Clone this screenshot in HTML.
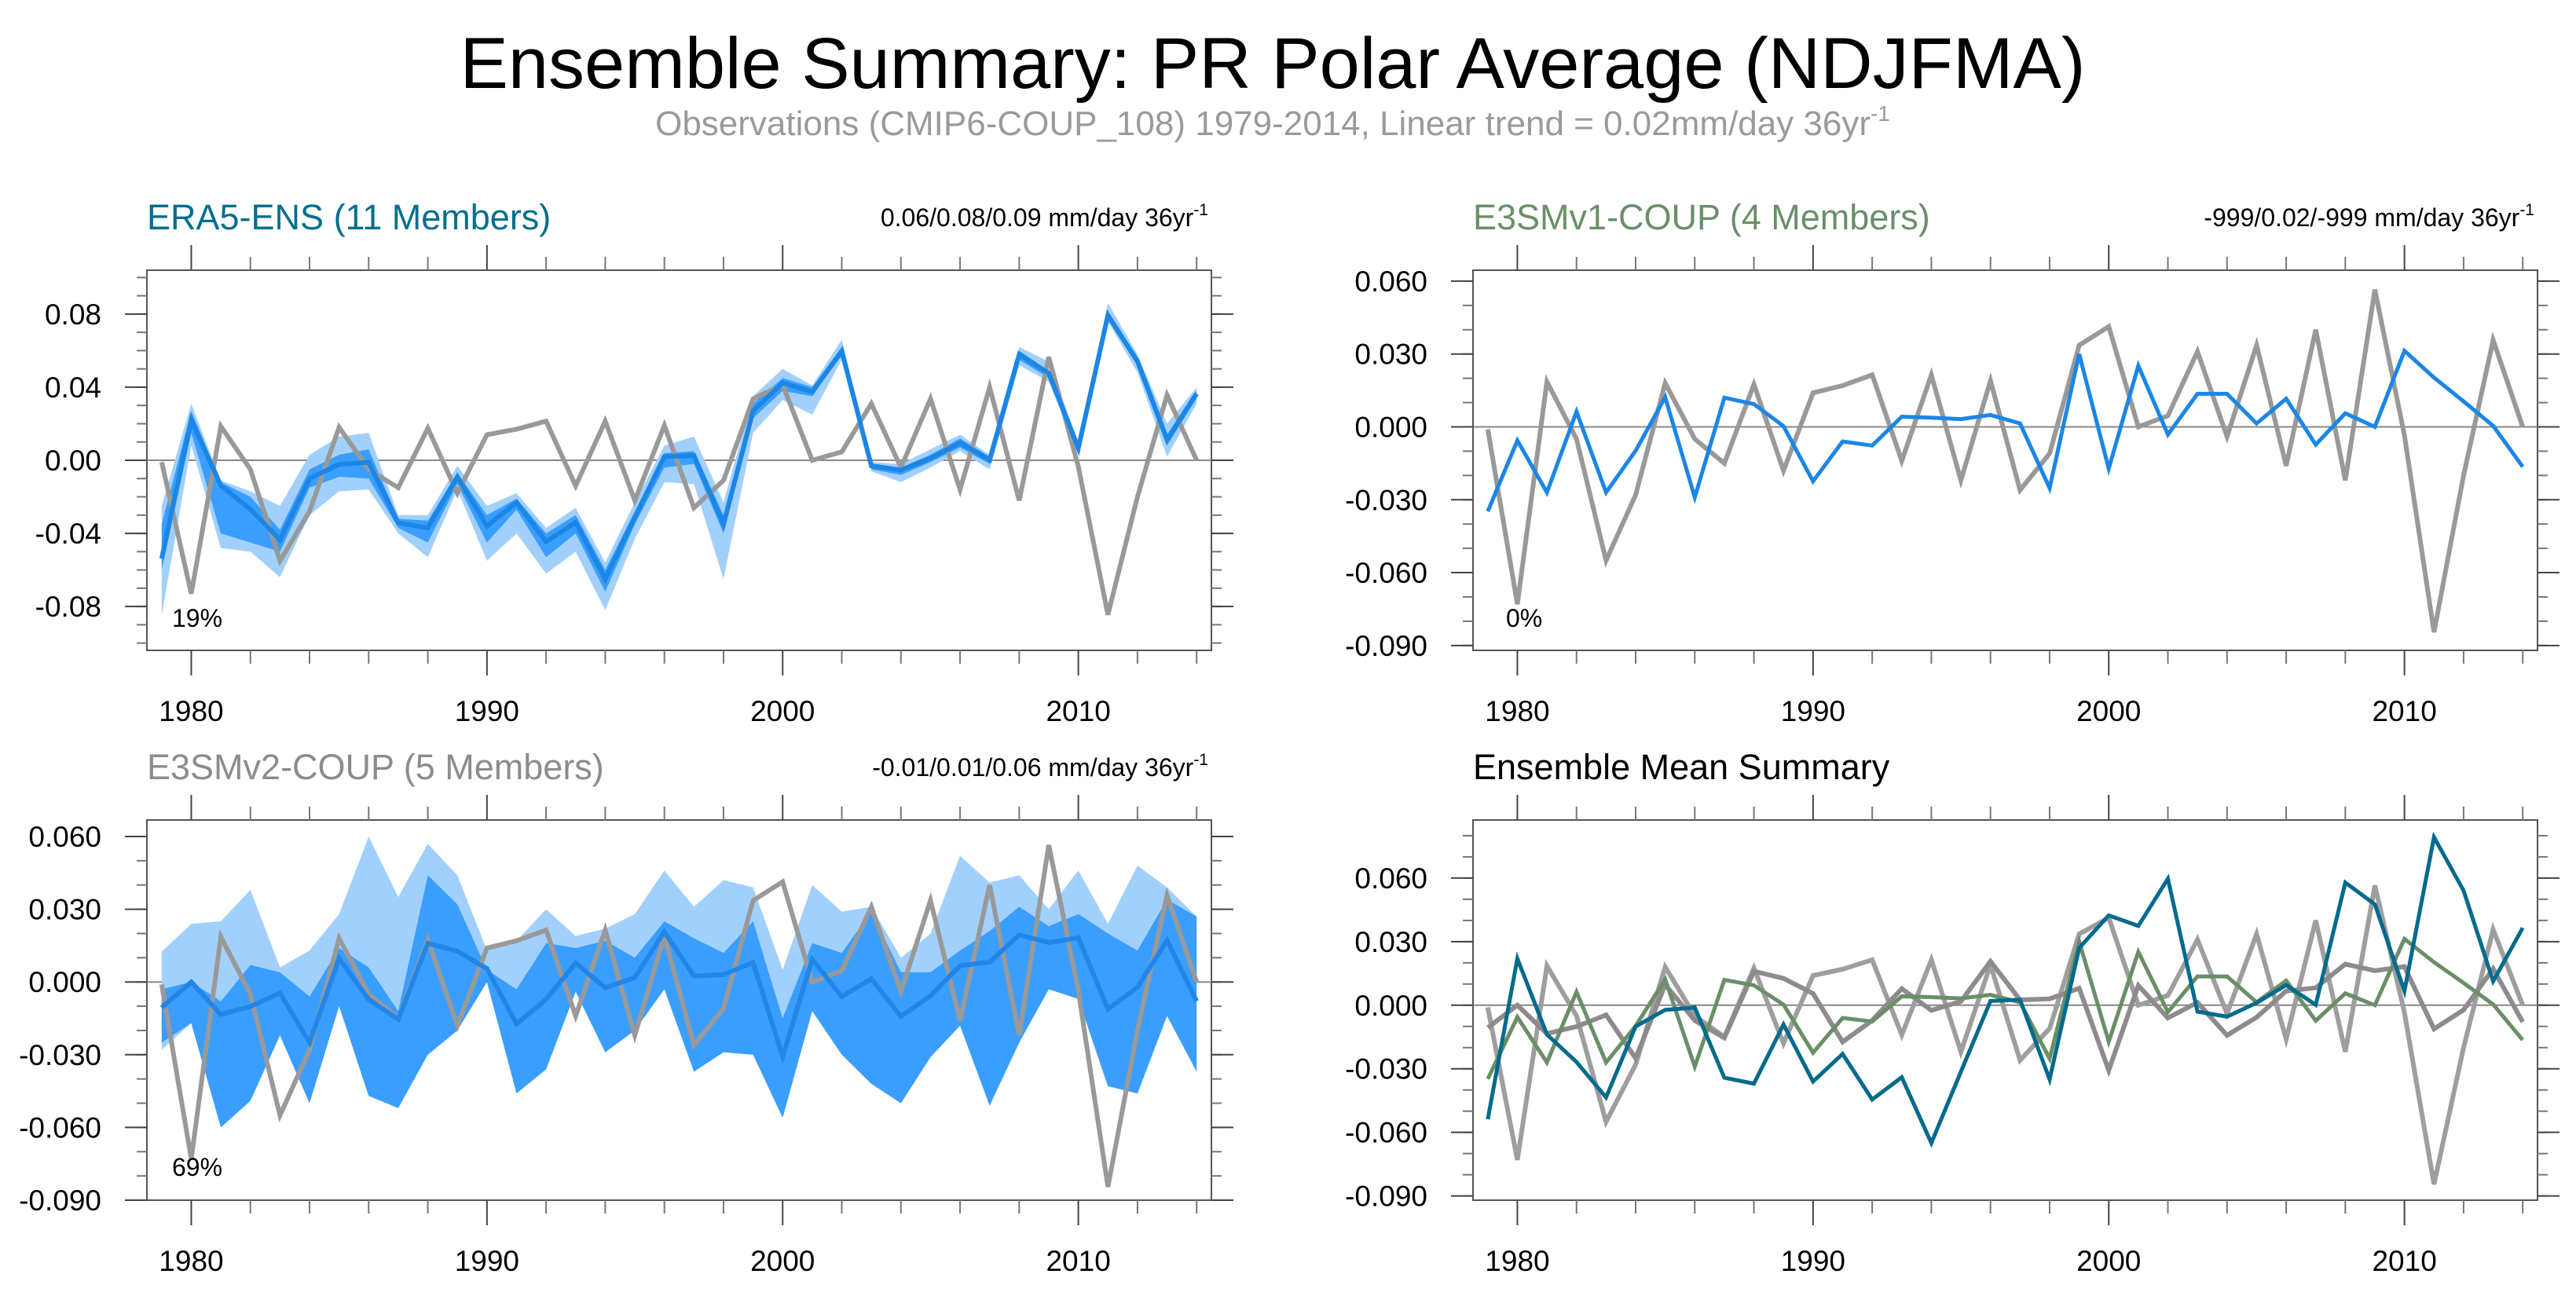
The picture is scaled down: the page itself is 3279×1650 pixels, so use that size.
<!DOCTYPE html>
<html><head><meta charset="utf-8"><title>Ensemble Summary</title>
<style>
html,body{margin:0;padding:0;background:#fff;}
svg{display:block;font-family:"Liberation Sans",Arial,sans-serif;}
</style></head>
<body>
<svg id="fig" width="3279" height="1650" viewBox="0 0 3279 1650" xmlns="http://www.w3.org/2000/svg">
<text x="1620" y="112" font-size="92" text-anchor="middle" fill="#000">Ensemble Summary: PR Polar Average (NDJFMA)</text>
<text x="1620" y="172" font-size="44" text-anchor="middle" fill="#9a9a9a">Observations (CMIP6-COUP_108) 1979-2014, Linear trend = 0.02mm/day 36yr<tspan font-size="28" dy="-18">-1</tspan></text>
</svg>
<script>
const years = [1979,1980,1981,1982,1983,1984,1985,1986,1987,1988,1989,1990,1991,1992,1993,1994,1995,1996,1997,1998,1999,2000,2001,2002,2003,2004,2005,2006,2007,2008,2009,2010,2011,2012,2013,2014];
const obs = [-0.001,-0.073,0.0186,-0.005,-0.055,-0.028,0.018,-0.005,-0.015,0.0175,-0.018,0.014,0.017,0.0214,-0.014,0.0214,-0.022,0.019,-0.026,-0.011,0.0336,0.0413,0.000,0.0046,0.031,-0.004,0.0336,-0.016,0.040,-0.022,0.0565,-0.0035,-0.0845,-0.020,0.0357,0.000];
const era5Mean = [-0.0538,0.022,-0.0138,-0.0268,-0.0435,-0.010,-0.0022,-0.0011,-0.0342,-0.037,-0.0091,-0.036,-0.023,-0.0445,-0.034,-0.065,-0.0314,0.002,0.0026,-0.035,0.027,0.0424,0.0374,0.0597,-0.003,-0.0054,0.0011,0.0095,0.0002,0.0579,0.0476,0.0067,0.0793,0.0541,0.0113,0.0365];
const era5OuterLo = [-0.085,0.008,-0.048,-0.05,-0.064,-0.03,-0.017,-0.016,-0.04,-0.053,-0.016,-0.055,-0.04,-0.062,-0.05,-0.082,-0.043,-0.012,-0.013,-0.065,0.015,0.033,0.025,0.055,-0.006,-0.012,-0.004,0.005,-0.005,0.052,0.043,0.003,0.076,0.048,0.002,0.031];
const era5InnerLo = [-0.06,0.015,-0.04,-0.045,-0.05,-0.015,-0.009,-0.01,-0.037,-0.045,-0.013,-0.045,-0.027,-0.053,-0.04,-0.072,-0.035,-0.004,-0.002,-0.04,0.023,0.038,0.035,0.058,-0.005,-0.008,-0.001,0.007,-0.002,0.055,0.045,0.005,0.078,0.052,0.008,0.034];
const era5InnerHi = [-0.035,0.027,-0.012,-0.02,-0.038,-0.005,0.003,0.006,-0.032,-0.033,-0.007,-0.03,-0.021,-0.04,-0.03,-0.06,-0.028,0.004,0.005,-0.03,0.031,0.045,0.04,0.062,-0.002,-0.004,0.003,0.012,0.002,0.06,0.049,0.008,0.081,0.056,0.014,0.038];
const era5OuterHi = [-0.025,0.031,-0.011,-0.017,-0.025,0.003,0.013,0.015,-0.03,-0.03,-0.003,-0.025,-0.018,-0.037,-0.026,-0.056,-0.023,0.008,0.013,-0.023,0.035,0.05,0.041,0.066,-0.001,-0.002,0.006,0.014,0.003,0.062,0.054,0.01,0.086,0.058,0.02,0.04];
const v1Mean = [-0.0348,-0.0056,-0.027,0.0063,-0.027,-0.0098,0.0122,-0.029,0.012,0.0094,0.0003,-0.0224,-0.006,-0.0077,0.0042,0.0038,0.0032,0.0049,0.0014,-0.0252,0.030,-0.0172,0.0252,-0.0032,0.0136,0.0136,0.0014,0.0116,-0.0073,0.0056,0.000,0.0313,0.0203,0.0105,0.0004,-0.0164];
const v2Mean = [-0.0106,0.000,-0.0134,-0.0101,-0.0046,-0.025,0.0097,-0.0072,-0.0154,0.016,0.0127,0.0055,-0.0173,-0.0072,0.0078,-0.0024,0.0018,0.0207,0.0025,0.003,0.008,-0.0307,0.0093,-0.006,0.0013,-0.0142,-0.0057,0.0067,0.0082,0.0194,0.0163,0.0182,-0.0112,-0.0022,0.0172,-0.0079];
const v2OuterHi = [0.0125,0.024,0.025,0.038,0.006,0.013,0.028,0.06,0.035,0.057,0.044,0.013,0.017,0.03,0.019,0.022,0.028,0.046,0.031,0.042,0.039,0.005,0.04,0.029,0.031,0.01,0.02,0.052,0.041,0.044,0.03,0.046,0.024,0.048,0.039,0.027];
const v2InnerHi = [-0.003,0.000,-0.008,0.007,0.004,-0.006,0.014,0.006,-0.012,0.044,0.032,0.005,-0.003,0.016,0.014,0.017,0.01,0.025,0.018,0.012,0.025,-0.015,0.016,0.012,0.029,0.004,0.004,0.013,0.021,0.031,0.023,0.028,0.02,0.013,0.034,0.027];
const v2InnerLo = [-0.025,-0.017,-0.06,-0.049,-0.022,-0.05,-0.01,-0.047,-0.052,-0.03,-0.02,0.000,-0.046,-0.036,-0.004,-0.029,-0.02,-0.003,-0.037,-0.029,-0.03,-0.056,-0.012,-0.03,-0.042,-0.05,-0.031,-0.018,-0.051,-0.025,-0.003,-0.007,-0.043,-0.046,-0.014,-0.037];
const v2OuterLo = [-0.028,-0.017,-0.06,-0.049,-0.022,-0.05,-0.01,-0.047,-0.052,-0.03,-0.02,0.000,-0.046,-0.036,-0.004,-0.029,-0.02,-0.003,-0.037,-0.029,-0.03,-0.056,-0.012,-0.03,-0.042,-0.05,-0.031,-0.018,-0.051,-0.025,-0.003,-0.007,-0.043,-0.046,-0.014,-0.037];
const ticks1 = [-0.08,-0.04,0,0.04,0.08];
const tickLabels1 = ["-0.08","-0.04","0.00","0.04","0.08"];
const ticks2 = [-0.09,-0.06,-0.03,0,0.03,0.06];
const tickLabels2 = ["-0.090","-0.060","-0.030","0.000","0.030","0.060"];
const xTicks = [1980,1990,2000,2010];

const NS = "http://www.w3.org/2000/svg";
const svg = document.getElementById('fig');
function mk(tag, attrs, parent){ const e=document.createElementNS(NS,tag); for(const k in attrs) e.setAttribute(k,attrs[k]); (parent||svg).appendChild(e); return e; }

function panel(cfg){
  const g = mk('g',{});
  
  
  const X = v => cfg.x0 + (v-1978.5)/(2014.5-1978.5)*(cfg.x1-cfg.x0);
  const Y = v => cfg.y1 - (v-cfg.ymin)/(cfg.ymax-cfg.ymin)*(cfg.y1-cfg.y0);
  // box
  const box = mk('rect',{x:cfg.x0,y:cfg.y0,width:cfg.x1-cfg.x0,height:cfg.y1-cfg.y0,fill:'#fff',stroke:'#555','stroke-width':2},g);
  
  
  // minor y ticks
  for(let i=-10;i<=10;i++){ const v=i*0.01; if(v<cfg.ymin||v>cfg.ymax) continue;
    const y=Y(v);
    mk('line',{x1:cfg.x0-13,x2:cfg.x0,y1:y,y2:y,stroke:'#777','stroke-width':2},g);
    mk('line',{x1:cfg.x1,x2:cfg.x1+13,y1:y,y2:y,stroke:'#777','stroke-width':2},g);
  }
  cfg.ticks.forEach((v,i)=>{ const y=Y(v);
    mk('line',{x1:cfg.x0-28,x2:cfg.x0,y1:y,y2:y,stroke:'#444','stroke-width':2},g);
    mk('line',{x1:cfg.x1,x2:cfg.x1+28,y1:y,y2:y,stroke:'#444','stroke-width':2},g);
    const t=mk('text',{x:cfg.x0-58,y:y+13,'font-size':37,'text-anchor':'end',fill:'#000'},g);
    t.textContent=cfg.labels[i];
    
    
  });
  // x ticks
  for(let yr=1980;yr<=2014;yr+=2){ const x=X(yr); const major=(yr%10===0); const L=major?32:17;
    mk('line',{x1:x,x2:x,y1:cfg.y0-L,y2:cfg.y0,stroke:major?'#444':'#777','stroke-width':2},g);
    mk('line',{x1:x,x2:x,y1:cfg.y1,y2:cfg.y1+L,stroke:major?'#444':'#777','stroke-width':2},g);
  }
  xTicks.forEach(yr=>{ const t=mk('text',{x:X(yr),y:cfg.y1+90,'font-size':37,'text-anchor':'middle',fill:'#000'},g); t.textContent=String(yr);
    
    
  });
  // zero line
  const z=mk('line',{x1:cfg.x0,x2:cfg.x1,y1:Y(0),y2:Y(0),stroke:'#888','stroke-width':2},g);
  
  
  const band=(lo,hi,color,name)=>{ let d='M'+years.map((yr,i)=>X(yr)+','+Y(hi[i])).join('L')+'L'+years.map((yr,i)=>X(yr)+','+Y(lo[i])).reverse().join('L')+'Z';
    const p=mk('path',{d:d,fill:color,stroke:'none'},g);
    
     };
  const line=(vals,color,w,name)=>{ const p=mk('polyline',{points:years.map((yr,i)=>X(yr)+','+Y(vals[i])).join(' '),fill:'none',stroke:color,'stroke-width':w,'stroke-linejoin':'miter'},g);
    
     };
  cfg.draw(band,line);
  const t1=mk('text',{x:cfg.x0,y:cfg.y0-52,'font-size':45,fill:cfg.titleColor},g); t1.textContent=cfg.title;
  
  
  if(cfg.right){ const t2=mk('text',{x:cfg.x1-4,y:cfg.y0-56,'font-size':32,'text-anchor':'end',fill:'#000'},g);
    t2.textContent=cfg.right; const s=mk('tspan',{'font-size':21,dy:-14},t2); s.textContent='-1';
    
     }
  if(cfg.pct){ const t3=mk('text',{x:cfg.pctX,y:cfg.pctY,'font-size':32,fill:'#000'},g); t3.textContent=cfg.pct;
    
     }
}

panel({name:'era5-panel',x0:187,x1:1542,y0:344,y1:828,ymin:-0.104,ymax:0.104,ticks:ticks1,labels:tickLabels1,
  title:'ERA5-ENS (11 Members)',titleColor:'#006f8f',right:'0.06/0.08/0.09 mm/day 36yr',pct:'19%',pctX:219,pctY:798,
  draw:(band,line)=>{ band(era5OuterLo,era5OuterHi,'#a2d0fc','era5-outer-band'); band(era5InnerLo,era5InnerHi,'#3a9efe','era5-inner-band');
    line(obs,'#999',6,'obs-line'); line(era5Mean,'#1b86e6',6,'era5-mean-line'); }});
panel({name:'e3smv1-panel',x0:1875,x1:3230,y0:344,y1:828,ymin:-0.092,ymax:0.0645,ticks:ticks2,labels:tickLabels2,
  title:'E3SMv1-COUP (4 Members)',titleColor:'#6a8f6a',right:'-999/0.02/-999 mm/day 36yr',pct:'0%',pctX:1917,pctY:798,
  draw:(band,line)=>{ line(obs,'#999',6,'obs-line'); line(v1Mean,'#1b86e6',5,'e3smv1-mean-line'); }});
panel({name:'e3smv2-panel',x0:187,x1:1542,y0:1044,y1:1528,ymin:-0.09,ymax:0.0668,ticks:ticks2,labels:tickLabels2,
  title:'E3SMv2-COUP (5 Members)',titleColor:'#8f8a8c',right:'-0.01/0.01/0.06 mm/day 36yr',pct:'69%',pctX:219,pctY:1497,
  draw:(band,line)=>{ band(v2OuterLo,v2OuterHi,'#a2d0fc','e3smv2-outer-band'); band(v2InnerLo,v2InnerHi,'#3a9efe','e3smv2-inner-band');
    line(obs,'#999',6,'obs-line'); line(v2Mean,'#2186e8',6,'e3smv2-mean-line'); }});
panel({name:'ensemble-mean-panel',x0:1875,x1:3230,y0:1044,y1:1528,ymin:-0.092,ymax:0.0874,ticks:ticks2,labels:tickLabels2,
  title:'Ensemble Mean Summary',titleColor:'#000',
  draw:(band,line)=>{ line(obs,'#9e9e9e',6,'obs-line'); line(v2Mean,'#8f8a8d',6,'e3smv2-mean-line'); line(v1Mean,'#6a8f68',5,'e3smv1-mean-line'); line(era5Mean,'#006b8c',5,'era5-mean-line'); }});
</script>
</body></html>
